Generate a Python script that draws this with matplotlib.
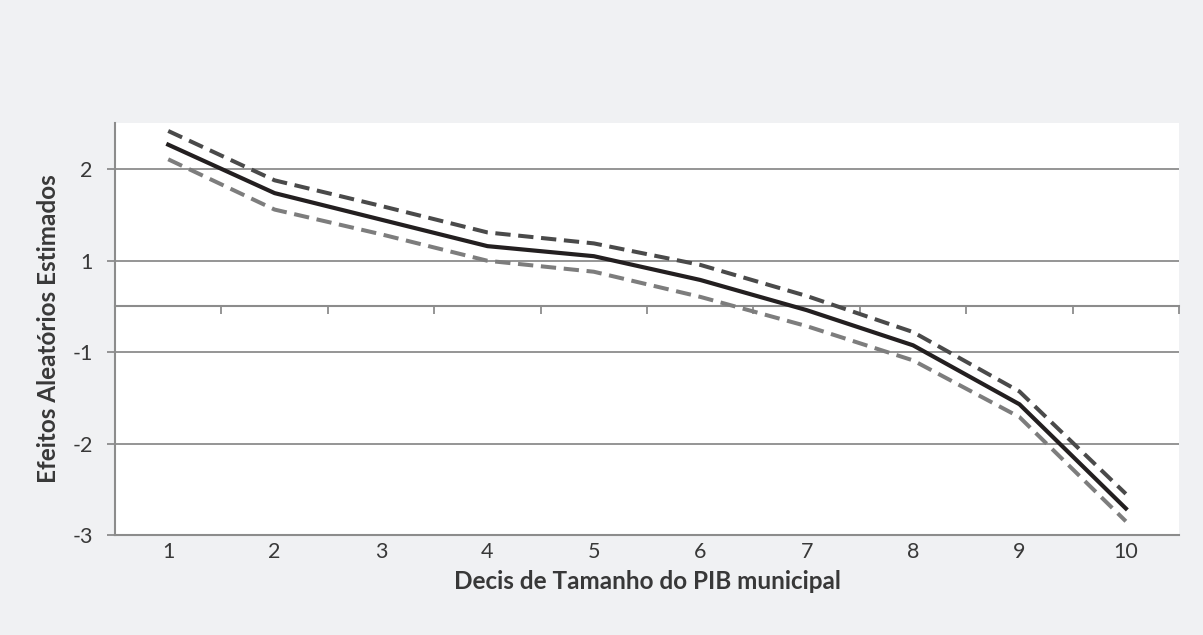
import matplotlib
matplotlib.use("Agg")
import matplotlib.pyplot as plt
import numpy as np

# Dados (decis do PIB municipal)
decis = [1, 2, 3, 4, 5, 6, 7, 8, 9, 10]
efeito = [2.27, 1.74, 1.45, 1.16, 1.05, 0.58, -0.08, -0.85, -1.57, -2.71]
limite_sup = [2.42, 1.88, 1.60, 1.31, 1.19, 0.91, 0.23, -0.56, -1.43, -2.55]
limite_inf = [2.11, 1.56, 1.29, 1.00, 0.76, 0.21, -0.43, -1.09, -1.71, -2.85]
y_ticks = [-3, -2, -1, 1, 2]
y_labels = ["-3", "-2", "-1", "1", "2"]

plt.rcParams['font.family'] = ['Lato', 'DejaVu Sans']

# Escala do eixo y: o intervalo [-1, 1] ocupa a mesma altura que uma unidade fora dele
def escala(y):
    y = np.asarray(y, dtype=float)
    return np.where(y >= 1, y - 1, np.where(y >= -1, 0.5 * y - 0.5, y))

def escala_inv(v):
    v = np.asarray(v, dtype=float)
    return np.where(v >= 0, v + 1, np.where(v >= -1, 2 * v + 1, v))

fundo = '#f0f1f3'
cinza = '#8c8c8c'
texto = '#383838'

fig = plt.figure(figsize=(12.03, 6.35), dpi=100, facecolor=fundo)
ax = fig.add_axes([0.0956, 0.1575, 0.8845, 0.6485])
ax.set_facecolor('white')
ax.set_yscale('function', functions=(escala, escala_inv))

ax.plot(decis, limite_sup, color='#4a4a4a', lw=2.9, dashes=(3.8, 1.9), zorder=3)
ax.plot(decis, limite_inf, color='#7d7d7d', lw=2.9, dashes=(3.8, 1.9), zorder=3)
ax.plot(decis, efeito, color='#231f20', lw=3.0, zorder=4)

ax.set_xlim(0.5, 10.5)
ax.set_ylim(-3, 2.505)

# Eixo y
ax.set_yticks(y_ticks)
ax.set_yticklabels(y_labels)
ax.yaxis.grid(True, color=cinza, lw=1.3)
ax.set_axisbelow(True)
ax.tick_params(axis='y', direction='out', length=6, width=1.3, color=cinza,
               labelsize=15.5, labelcolor=texto, pad=10)

# Eixo x: rótulos em baixo, linha do zero com marcas entre as categorias
ax.set_xticks(decis)
ax.set_xticks(np.arange(0.5, 11, 1), minor=True)
ax.tick_params(axis='x', which='major', length=0, labelsize=15.5,
               labelcolor=texto, pad=5)
ax.tick_params(axis='x', which='minor', top=True, bottom=False, direction='in',
               length=6, width=1.3, color=cinza)
ax.spines['top'].set_position(('data', 0))

for lado in ['left', 'bottom', 'top']:
    ax.spines[lado].set_color(cinza)
    ax.spines[lado].set_linewidth(1.5)
ax.spines['right'].set_visible(False)

ax.set_ylabel("Efeitos Aleatórios Estimados", fontsize=17.5, fontweight='bold',
              color=texto, labelpad=9)
ax.set_xlabel("Decis de Tamanho do PIB municipal", fontsize=17.5, fontweight='bold',
              color=texto, labelpad=6)

fig.savefig("out.png", dpi=100, facecolor=fundo)
